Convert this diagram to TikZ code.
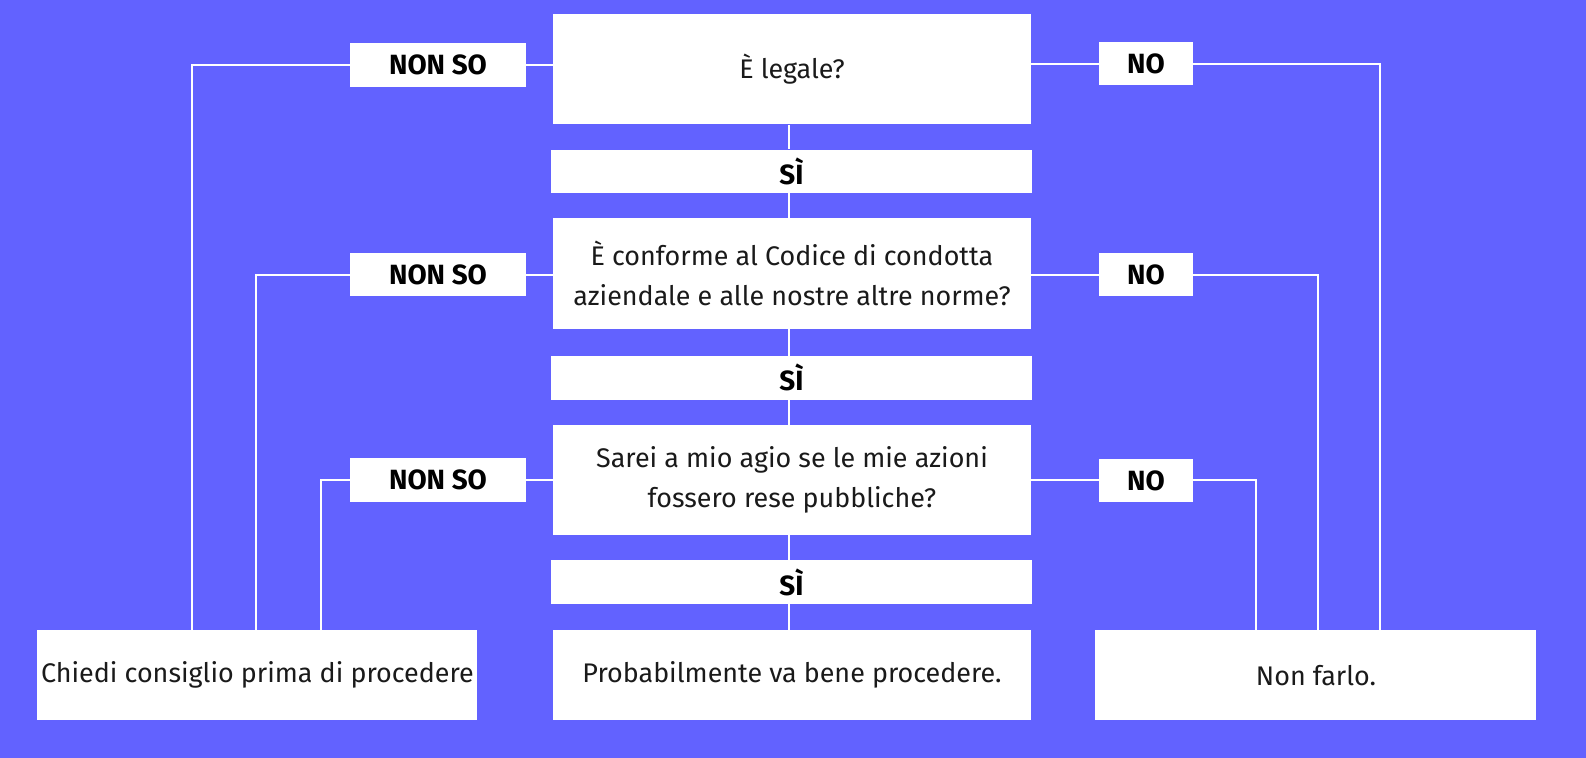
\documentclass[tikz,border=0pt]{standalone}
\usepackage{fontspec}
\setmainfont{Fira Sans}
\usetikzlibrary{backgrounds}
\definecolor{bg}{RGB}{98,98,255}
\definecolor{ink}{RGB}{26,26,26}
\pgfdeclarelayer{bottom}
\pgfsetlayers{bottom,background,main}
\tikzset{
  box/.style={fill=white, draw=none, inner sep=0pt, align=center, text=ink,
    font=\fontsize{26.6}{39}\selectfont},
  lbl/.style={fill=white, draw=none, inner sep=0pt, text=black,
    font=\fontsize{27.5}{30}\selectfont\bfseries, minimum height=43pt},
  wire/.style={draw=white, line width=2pt}
}
\begin{document}
\begin{tikzpicture}[x=1pt,y=-1pt]
\begin{pgfonlayer}{bottom}
\fill[bg] (0,0) rectangle (1568,749);
\end{pgfonlayer}
\useasboundingbox (0,0) rectangle (1568,749);
% guide coordinates for vertical wires
\coordinate (cx) at (780,0);
\coordinate (l1) at (190,0);
\coordinate (l2) at (253,0);
\coordinate (l3) at (317,0);
\coordinate (r1) at (1364,0);
\coordinate (r2) at (1303,0);
\coordinate (r3) at (1242,0);
% main boxes
\node[box, minimum width=472pt, minimum height=109pt] (q1) at (783,68.5) {È legale?};
\node[lbl, minimum width=475pt] (si1) at (782.5,169.5) {SÌ};
\node[box, minimum width=472pt, minimum height=109pt] (q2) at (783,270.5) {È conforme al Codice di condotta\\aziendale e alle nostre altre norme?};
\node[lbl, minimum width=475pt] (si2) at (782.5,373.5) {SÌ};
\node[box, minimum width=472pt, minimum height=109pt] (q3) at (783,474.5) {Sarei a mio agio se le mie azioni\\fossero rese pubbliche?};
\node[lbl, minimum width=475pt] (si3) at (782.5,575.5) {SÌ};
\node[box, minimum width=472pt, minimum height=89pt] (bc) at (783,667.5) {Probabilmente va bene procedere.};
\node[box, minimum width=435pt, minimum height=89pt] (bl) at (254.5,667.5) {Chiedi consiglio prima di procedere};
\node[box, minimum width=436pt, minimum height=89pt] (br) at (1301,667.5) {Non farlo.};
% label boxes
\node[lbl, minimum width=174pt] (ns1) at (433,64.5) {NON SO};
\node[lbl, minimum width=174pt] (ns2) at (433,271.5) {NON SO};
\node[lbl, minimum width=174pt] (ns3) at (433,474.5) {NON SO};
\node[lbl, minimum width=92pt] (no1) at (1133,63) {NO};
\node[lbl, minimum width=92pt] (no2) at (1133,271.5) {NO};
\node[lbl, minimum width=92pt] (no3) at (1133,475) {NO};
% wires (behind boxes)
\begin{pgfonlayer}{background}
\draw[wire] (q1.south -| cx) -- (si1.north -| cx);
\draw[wire] (si1.south -| cx) -- (q2.north -| cx);
\draw[wire] (q2.south -| cx) -- (si2.north -| cx);
\draw[wire] (si2.south -| cx) -- (q3.north -| cx);
\draw[wire] (q3.south -| cx) -- (si3.north -| cx);
\draw[wire] (si3.south -| cx) -- (bc.north -| cx);
\draw[wire] (q1.west |- ns1) -- (ns1.east);
\draw[wire] (q2.west |- ns2) -- (ns2.east);
\draw[wire] (q3.west |- ns3) -- (ns3.east);
\draw[wire] (ns1.west) -| (l1 |- bl.north);
\draw[wire] (ns2.west) -| (l2 |- bl.north);
\draw[wire] (ns3.west) -| (l3 |- bl.north);
\draw[wire] (q1.east |- no1) -- (no1.west);
\draw[wire] (q2.east |- no2) -- (no2.west);
\draw[wire] (q3.east |- no3) -- (no3.west);
\draw[wire] (no1.east) -| (r1 |- br.north);
\draw[wire] (no2.east) -| (r2 |- br.north);
\draw[wire] (no3.east) -| (r3 |- br.north);
\end{pgfonlayer}
\end{tikzpicture}
\end{document}
